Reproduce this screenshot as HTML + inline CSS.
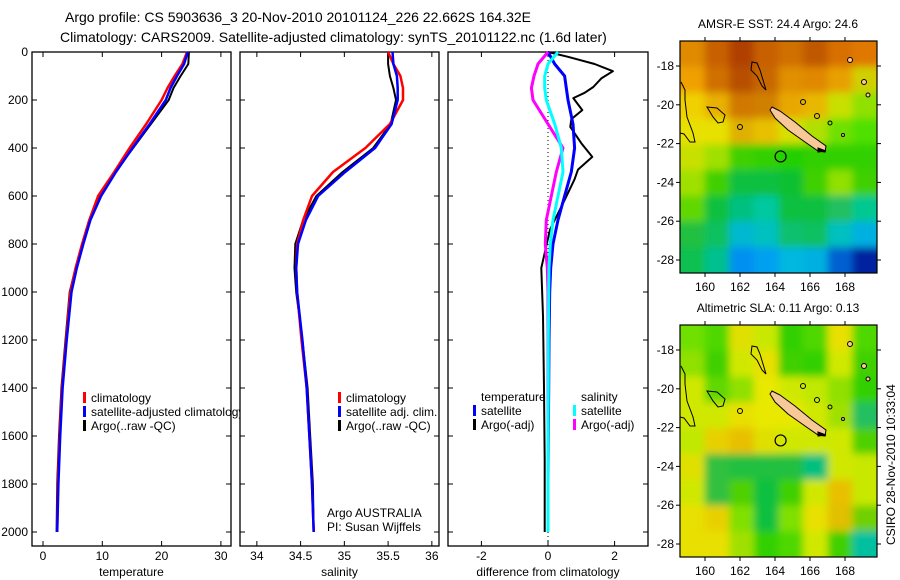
<!DOCTYPE html>
<html><head><meta charset="utf-8"><style>
html,body{margin:0;padding:0;background:#fff;width:900px;height:580px;overflow:hidden}
svg{display:block;font-family:"Liberation Sans",sans-serif}
text{font-size:12px;fill:#000}
</style></head><body>
<svg id="chart" width="900" height="580" viewBox="0 0 900 580">
<defs>
<clipPath id="clipP1"><rect x="32" y="52" width="208" height="494"/></clipPath>
<clipPath id="clipM1"><rect x="680" y="41" width="197" height="232"/></clipPath>
<clipPath id="clipM2"><rect x="680" y="325" width="197" height="232"/></clipPath>
<filter id="blur" x="-10%" y="-10%" width="120%" height="120%"><feGaussianBlur stdDeviation="4"/></filter>
</defs>
<text x="65" y="22" style="font-size:14px">Argo profile: CS 5903636_3 20-Nov-2010 20101124_226 22.662S 164.32E</text>
<text x="60" y="42" style="font-size:14px">Climatology: CARS2009. Satellite-adjusted climatology: synTS_20101122.nc (1.6d later)</text>
<g id="g1"></g>
<g id="g2"></g>
<g id="g3"></g>
<g id="m1"></g>
<g id="m2"></g>
<text x="0" y="0" transform="translate(895,545) rotate(-90)" style="font-size:12px">CSIRO 28-Nov-2010 10:33:04</text>
</svg>
<script>
// ---- data ----
const depths = [0,50,100,150,200,300,400,500,600,700,800,900,1000,1200,1400,1600,1800,2000];
const tempClim = [24.3,23.5,22.2,21,20,17.4,14.6,12,9.3,7.8,6.6,5.5,4.6,3.9,3.2,2.8,2.5,2.4];
const tempSat  = [24.4,23.8,22.6,21.5,20.7,18,15.1,12.3,9.8,8,6.8,5.7,4.8,4.0,3.3,2.9,2.6,2.4];
const tempArgo = [24.6,24.5,23.2,22,21.2,18.2,15.2,12.2,9.6,7.8,6.6,5.5,4.5,3.8,3.1,2.7,2.4,2.3];
const salClim = [35.5,35.56,35.64,35.67,35.67,35.52,35.24,34.87,34.63,34.53,34.46,34.45,34.46,34.51,34.57,34.6,34.63,34.65];
const salSat  = [35.55,35.56,35.6,35.61,35.61,35.54,35.35,35.01,34.7,34.56,34.47,34.45,34.46,34.52,34.57,34.6,34.63,34.65];
const salArgo = [35.5,35.5,35.52,35.56,35.59,35.53,35.33,34.98,34.68,34.53,34.44,34.43,34.45,34.52,34.58,34.61,34.64,34.65];
const diffTempSat = [0,0.2,0.5,0.55,0.6,0.75,0.8,0.7,0.5,0.3,0.15,0.08,0.05,0.03,0.02,0.01,0,0];
const diffSalSat  = [0.3,0,-0.1,-0.1,-0.05,0.2,0.4,0.45,0.3,0.15,0.07,0.03,0.02,0.01,0.01,0,0,0];
const diffSalArgo = [0,-0.3,-0.42,-0.5,-0.45,0.0,0.45,0.25,0.1,-0.05,-0.08,-0.02,0,0,0,0,0,0];
const argoDiffDepths = [0,20,50,80,110,146,170,192,242,280,312,380,437,490,530,617,740,900,1100,1400,1700,2000];
const diffTempArgo = [0,0.6,1.4,1.95,1.6,1.36,1.1,0.76,1.03,0.7,0.67,1.0,1.33,0.9,0.8,0.5,0.06,-0.2,-0.15,-0.12,-0.1,-0.1];
const depthTicks = [0,200,400,600,800,1000,1200,1400,1600,1800,2000];
const tempTicks = [0,10,20,30];
const salTicks = [34,34.5,35,35.5,36];
const diffTicks = [-2,0,2];
const lonTicks = [160,162,164,166,168];
const latTicks = [-18,-20,-22,-24,-26,-28];
const argoLon = 164.32, argoLat = -22.662;
const sstGrid = [
["#e08a00","#c86000","#b04000","#c86000","#d07000","#c05800","#d87000","#e07800"],
["#f0a000","#d07000","#b85000","#c86800","#e09000","#e08800","#e8a000","#d0d000"],
["#f0d000","#e8b000","#d07800","#d08000","#e8a800","#e8b800","#c8e000","#90e000"],
["#e8e000","#e8e000","#e0b000","#e8c000","#d8e000","#b0e000","#70e000","#50e000"],
["#c8e000","#a0e000","#40d000","#30d000","#20d000","#30d000","#30d000","#30d000"],
["#a0e000","#40d000","#10c040","#10c040","#10c030","#40d000","#90e000","#40d000"],
["#60d800","#10c040","#00c080","#00c8a0","#10c040","#10c040","#20c060","#00c890"],
["#20c040","#10c060","#00b8d0","#00c0c0","#10c070","#10c060","#00c0c0","#00b0e0"],
["#10c050","#00c090","#0090f0","#00a0f0","#00b8e0","#00b0e0","#0060d0","#0020a0"]];
const slaGrid = [
["#70e000","#50d800","#e0e000","#c8e800","#30d000","#50d800","#e8e000","#50d800"],
["#90e000","#40d000","#d0e800","#e8e000","#40d000","#30d000","#d0e800","#40d000"],
["#d0e800","#60d800","#90e000","#e8e800","#d0e800","#c0e800","#90e000","#30d000"],
["#d0e800","#d0e800","#e8e000","#e8e800","#e8e800","#d0e800","#a0e000","#20c060"],
["#c0e800","#e8d000","#e8c000","#e0e000","#d0e800","#d0e800","#d0e800","#50d000"],
["#e0e000","#30c040","#20c040","#20c040","#20c040","#00c080","#d0e800","#c8e800"],
["#d0e800","#30c040","#50d000","#10c040","#40d000","#d0e800","#e8c000","#c8e800"],
["#e8e000","#e8d000","#80e000","#10c040","#80e000","#e8e000","#e0c000","#70d000"],
["#e8e000","#e8e000","#a0e000","#30d000","#50d800","#d0e800","#40d000","#00c0a0"]];

const NS="http://www.w3.org/2000/svg";
function mk(parent,tag,attrs){const e=document.createElementNS(NS,tag);for(const k in attrs)e.setAttribute(k,attrs[k]);parent.appendChild(e);return e;}
const yD = d => 52 + d*0.24;
const xT = v => 43 + v*5.93;
const xS = v => 300.6 + (v-34.5)*87.5;
const xDf = v => 548 + v*33.3;

function series(g,xs,ds,xf,color,w,name){
  let p='';
  for(let i=0;i<xs.length;i++){p+=(i?'L':'M')+xf(xs[i]).toFixed(1)+' '+yD(ds[i]).toFixed(1);}
  const e=mk(g,'path',{d:p,fill:'none',stroke:color,'stroke-width':w,'stroke-linejoin':'round'});
  
  
  return e;
}
function frame(g,x0,x1,ticks,xf,labels,xlabel,leftLabels){
  const r=mk(g,'rect',{x:x0,y:52,width:x1-x0,height:494,fill:'#fff',stroke:'#000','stroke-width':1.3});
  
  
  depthTicks.forEach(d=>{
    mk(g,'line',{x1:x0,x2:x0+5,y1:yD(d),y2:yD(d),stroke:'#000'});
    mk(g,'line',{x1:x1,x2:x1-5,y1:yD(d),y2:yD(d),stroke:'#000'});
    if(leftLabels){const t=mk(g,'text',{x:x0-4,y:yD(d)+4,'text-anchor':'end'});t.textContent=d;
      
      }
  });
  ticks.forEach((v,i)=>{
    const x=xf(v);
    mk(g,'line',{x1:x,x2:x,y1:52,y2:57,stroke:'#000'});
    mk(g,'line',{x1:x,x2:x,y1:546,y2:541,stroke:'#000'});
    const t=mk(g,'text',{x:x,y:560,'text-anchor':'middle'});t.textContent=labels[i];
    
    
  });
  const t=mk(g,'text',{x:(x0+x1)/2,y:576,'text-anchor':'middle'});t.textContent=xlabel;
  
  
}
function legend(g,x,y,color,label,clip){
  if(color){const b=mk(g,'rect',{x:x,y:y-10,width:3,height:11,fill:color});
    
    }
  const t=mk(g,'text',{x:x+8,y:y});t.textContent=label;
  if(clip)t.setAttribute('clip-path','url(#clipP1)');
  
  
}
// Panel 1 temperature
const g1=document.getElementById('g1');
frame(g1,32,231,tempTicks,xT,tempTicks,'temperature',true);
series(g1,tempArgo,depths,xT,'#000',2,'temperature-argo-line');
series(g1,tempClim,depths,xT,'#f00',2.5,'temperature-climatology-line');
series(g1,tempSat,depths,xT,'#00f',2.5,'temperature-satellite-line');
legend(g1,83,402,'#f00','climatology');
legend(g1,83,416,'#00f','satellite-adjusted climatology',true);
legend(g1,83,430,'#000','Argo(..raw -QC)');
// Panel 2 salinity
const g2=document.getElementById('g2');
frame(g2,240,439,salTicks,xS,['34','34.5','35','35.5','36'],'salinity',false);
series(g2,salArgo,depths,xS,'#000',2,'salinity-argo-line');
series(g2,salClim,depths,xS,'#f00',2.5,'salinity-climatology-line');
series(g2,salSat,depths,xS,'#00f',2.5,'salinity-satellite-line');
legend(g2,338,402,'#f00','climatology');
legend(g2,338,416,'#00f','satellite adj. clim.');
legend(g2,338,430,'#000','Argo(..raw -QC)');
{const t=mk(g2,'text',{x:327,y:517});t.textContent='Argo AUSTRALIA';


const t2=mk(g2,'text',{x:327,y:531});t2.textContent='PI: Susan Wijffels';

}
// Panel 3 differences
const g3=document.getElementById('g3');
frame(g3,448,648,diffTicks,xDf,['-2','0','2'],'difference from climatology',false);
{const z=mk(g3,'line',{x1:xDf(0),x2:xDf(0),y1:60,y2:546,stroke:'#000','stroke-dasharray':'1 3'});

}
series(g3,diffTempArgo,argoDiffDepths,xDf,'#000',2,'temp-diff-argo-line');
series(g3,diffTempSat,depths,xDf,'#00f',3,'temp-diff-satellite-line');
series(g3,diffSalArgo,depths,xDf,'#f0f',3,'sal-diff-argo-line');
series(g3,diffSalSat,depths,xDf,'#0ff',3,'sal-diff-satellite-line');
legend(g3,473,401,null,'temperature');
legend(g3,473,415,'#00f','satellite');
legend(g3,473,429,'#000','Argo(-adj)');
legend(g3,573,401,null,'salinity');
legend(g3,573,415,'#0ff','satellite');
legend(g3,573,429,'#f0f','Argo(-adj)');

// Maps
const lonX = v => 705 + (v-160)*17.5;
function drawMap(gid,top,grid,title,clipId){
  const g=document.getElementById(gid);
  const latY = v => top + 25 + (-18 - v)*19.4;
  const t=mk(g,'text',{x:778,y:top-13,'text-anchor':'middle'});t.textContent=title;
  
  
  const cg=mk(g,'g',{'clip-path':'url(#'+clipId+')'});
  const fg=mk(cg,'g',{filter:'url(#blur)'});
  const rows=grid.length, cols=grid[0].length, cw=197/cols, ch=232/rows;
  for(let r=-1;r<=rows;r++)for(let c=-1;c<=cols;c++){
    const rr=Math.min(rows-1,Math.max(0,r)), cc=Math.min(cols-1,Math.max(0,c));
    const cell=mk(fg,'rect',{x:680+c*cw,y:top+r*ch,width:cw+1,height:ch+1,fill:grid[rr][cc]});
    
    
  }
  const o=top-41;
  const cl=mk(cg,'g',{transform:'translate(0,'+o+')',stroke:'#000','stroke-width':1,fill:'none'});
  
  
  mk(cl,'path',{d:'M772 107 L780 111 L795 122 L812 136 L826 146 L825 152 L818 151 L805 142 L788 130 L775 118 L770 110 Z',fill:'#f8c898'});
  mk(cl,'path',{d:'M818 148 L826 151 L818 152 Z',fill:'#000'});
  mk(cl,'path',{d:'M752 62 L757 63 L760 70 L763 80 L766 90 L762 86 L757 76 L751 70 Z'});
  mk(cl,'path',{d:'M681 82 L685 90 L685 100 L687 117 L693 133 L695 142 L690 142 L684 134 L680 133'});
  mk(cl,'path',{d:'M707 107 L717 108 L725 115 L723 122 L718 123 L713 117 Z'});
  [[740,127,2.5,'none'],[803,102,2.5,'none'],[817,116,2.5,'none'],[830,123,2,'none'],[843,135,1.5,'#f8c898'],[850,60,2.5,'#f8c898'],[864,82,2.5,'#f8c898'],[868,95,2,'#f8c898']].forEach(a=>mk(cl,'circle',{cx:a[0],cy:a[1],r:a[2],fill:a[3]}));
  const ac=mk(g,'circle',{cx:lonX(argoLon),cy:latY(argoLat),r:5.5,fill:'none',stroke:'#000','stroke-width':1.2});
  
  
  const fr=mk(g,'rect',{x:680,y:top,width:197,height:232,fill:'none',stroke:'#000','stroke-width':1.2});
  
  
  lonTicks.forEach(v=>{const x=lonX(v);
    mk(g,'line',{x1:x,x2:x,y1:top,y2:top-4,stroke:'#000'});
    mk(g,'line',{x1:x,x2:x,y1:top+232,y2:top+236,stroke:'#000'});
    const tl=mk(g,'text',{x:x,y:top+250,'text-anchor':'middle'});tl.textContent=v;
    
    });
  latTicks.forEach(v=>{const y=latY(v);
    mk(g,'line',{x1:680,x2:676,y1:y,y2:y,stroke:'#000'});
    mk(g,'line',{x1:877,x2:881,y1:y,y2:y,stroke:'#000'});
    const tl=mk(g,'text',{x:674,y:y+4,'text-anchor':'end'});tl.textContent=v;
    
    });
}
drawMap('m1',41,sstGrid,'AMSR-E SST: 24.4 Argo: 24.6','clipM1');
drawMap('m2',325,slaGrid,'Altimetric SLA: 0.11 Argo: 0.13','clipM2');
</script>
</body></html>
